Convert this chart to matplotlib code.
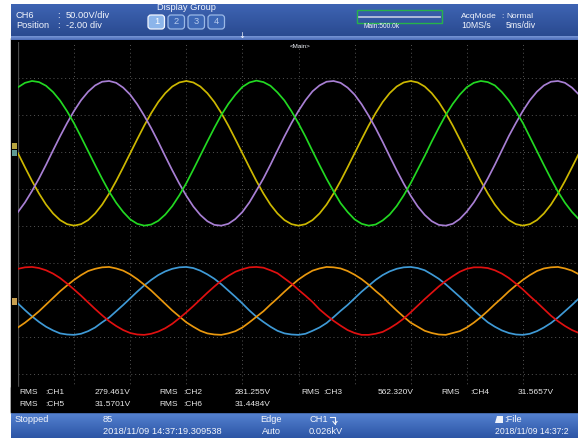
import numpy as np
import matplotlib
matplotlib.use('Agg')
import matplotlib.pyplot as plt
from matplotlib.patches import Rectangle, FancyBboxPatch, Polygon
from matplotlib.colors import LinearSegmentedColormap

# ---------------- data (screen divisions) ----------------
time_div = np.arange(0, 10.001, 0.125)          # 5 ms/div, 81 samples

green = [3.76, 3.88, 3.93, 3.90, 3.80, 3.63, 3.40, 3.11, 2.78, 2.41, 2.03, 1.65, 1.28, 0.93, 0.63, 0.38,
         0.18, 0.06, 0.01, 0.04, 0.14, 0.31, 0.54, 0.83, 1.16, 1.53, 1.91, 2.29, 2.66, 3.01, 3.31, 3.56,
         3.77, 3.89, 3.94, 3.90, 3.80, 3.62, 3.40, 3.11, 2.78, 2.42, 2.03, 1.65, 1.28, 0.94, 0.62, 0.38,
         0.18, 0.06, 0.01, 0.04, 0.15, 0.31, 0.54, 0.83, 1.16, 1.53, 1.90, 2.29, 2.66, 3.01, 3.31, 3.56,
         3.76, 3.88, 3.93, 3.90, 3.81, 3.63, 3.40, 3.11, 2.79, 2.41, 2.03, 1.65, 1.28, 0.93, 0.63, 0.38,
         0.18]
purple = [0.38, 0.64, 0.95, 1.29, 1.66, 2.05, 2.43, 2.79, 3.12, 3.41, 3.64, 3.81, 3.91, 3.93, 3.88, 3.75,
          3.56, 3.30, 2.99, 2.65, 2.28, 1.89, 1.51, 1.15, 0.82, 0.53, 0.30, 0.13, 0.03, 0.01, 0.06, 0.19,
          0.38, 0.64, 0.96, 1.29, 1.66, 2.05, 2.43, 2.79, 3.12, 3.41, 3.65, 3.81, 3.91, 3.93, 3.88, 3.75,
          3.56, 3.30, 2.99, 2.65, 2.28, 1.89, 1.51, 1.15, 0.82, 0.53, 0.30, 0.13, 0.03, 0.01, 0.06, 0.19,
          0.39, 0.64, 0.95, 1.29, 1.66, 2.05, 2.44, 2.79, 3.12, 3.41, 3.64, 3.81, 3.91, 3.93, 3.88, 3.75,
          3.56]
yellow = [1.97, 1.59, 1.22, 0.88, 0.58, 0.34, 0.16, 0.05, 0.01, 0.05, 0.16, 0.34, 0.58, 0.88, 1.22, 1.59,
          1.97, 2.35, 2.72, 3.06, 3.36, 3.60, 3.78, 3.89, 3.93, 3.89, 3.78, 3.60, 3.36, 3.06, 2.72, 2.35,
          1.97, 1.59, 1.22, 0.88, 0.58, 0.34, 0.16, 0.05, 0.01, 0.05, 0.16, 0.34, 0.58, 0.88, 1.22, 1.59,
          1.97, 2.35, 2.72, 3.06, 3.36, 3.60, 3.78, 3.89, 3.93, 3.89, 3.78, 3.60, 3.36, 3.06, 2.72, 2.35,
          1.97, 1.59, 1.22, 0.88, 0.58, 0.34, 0.16, 0.05, 0.01, 0.05, 0.16, 0.34, 0.58, 0.88, 1.22, 1.59,
          1.97]
red = [-1.16, -1.12, -1.11, -1.14, -1.20, -1.29, -1.41, -1.56, -1.72, -1.89, -2.07, -2.25, -2.42, -2.58, -2.71, -2.82,
       -2.90, -2.94, -2.95, -2.92, -2.86, -2.77, -2.65, -2.50, -2.34, -2.17, -1.99, -1.81, -1.64, -1.48, -1.35, -1.24,
       -1.17, -1.12, -1.11, -1.13, -1.20, -1.28, -1.42, -1.56, -1.73, -1.89, -2.06, -2.26, -2.42, -2.57, -2.70, -2.82,
       -2.90, -2.95, -2.95, -2.92, -2.87, -2.77, -2.65, -2.51, -2.34, -2.16, -1.98, -1.81, -1.64, -1.49, -1.36, -1.24,
       -1.16, -1.12, -1.12, -1.14, -1.20, -1.29, -1.41, -1.56, -1.72, -1.90, -2.07, -2.25, -2.43, -2.58, -2.71, -2.82,
       -2.90]
orange = [-2.75, -2.62, -2.47, -2.31, -2.13, -1.95, -1.77, -1.61, -1.46, -1.33, -1.22, -1.16, -1.12, -1.11, -1.15, -1.21,
          -1.31, -1.44, -1.59, -1.75, -1.93, -2.11, -2.29, -2.45, -2.61, -2.73, -2.84, -2.91, -2.94, -2.95, -2.91, -2.85,
          -2.75, -2.61, -2.46, -2.31, -2.13, -1.96, -1.78, -1.61, -1.45, -1.32, -1.21, -1.15, -1.11, -1.12, -1.15, -1.22,
          -1.32, -1.44, -1.59, -1.76, -1.92, -2.11, -2.29, -2.46, -2.62, -2.73, -2.84, -2.90, -2.94, -2.95, -2.90, -2.85,
          -2.75, -2.62, -2.47, -2.30, -2.12, -1.95, -1.77, -1.61, -1.46, -1.33, -1.22, -1.15, -1.12, -1.11, -1.15, -1.21,
          -1.31]
blue = [-2.10, -2.28, -2.45, -2.60, -2.73, -2.83, -2.91, -2.94, -2.95, -2.92, -2.85, -2.75, -2.61, -2.48, -2.31, -2.14,
        -1.96, -1.78, -1.61, -1.46, -1.33, -1.23, -1.16, -1.12, -1.11, -1.14, -1.21, -1.31, -1.43, -1.58, -1.75, -1.92,
        -2.10, -2.29, -2.46, -2.60, -2.73, -2.84, -2.91, -2.94, -2.95, -2.92, -2.84, -2.75, -2.63, -2.47, -2.30, -2.14,
        -1.96, -1.78, -1.62, -1.46, -1.33, -1.23, -1.16, -1.12, -1.11, -1.14, -1.20, -1.31, -1.43, -1.58, -1.75, -1.92,
        -2.10, -2.28, -2.45, -2.61, -2.73, -2.83, -2.90, -2.94, -2.95, -2.92, -2.85, -2.75, -2.63, -2.48, -2.31, -2.14,
        -1.96]

trace_colors = {'green': '#22d822', 'purple': '#a87fd4', 'yellow': '#cdb800',
                'red': '#e01010', 'orange': '#e9980e', 'blue': '#3f9ad6'}

rms_row1 = [('CH1', '279.461V'), ('CH2', '281.255V'), ('CH3', '562.320V'), ('CH4', '31.5657V')]
rms_row2 = [('CH5', '31.5701V'), ('CH6', '31.4484V')]

# ---------------- figure ----------------
W, H = 578, 438
FONT = ['Liberation Sans', 'DejaVu Sans']
fig = plt.figure(figsize=(W / 100, H / 100), dpi=100)
fig.patch.set_facecolor('white')

bg = fig.add_axes([0, 0, 1, 1], zorder=0)
bg.axis('off')


def vgrad(ax, x0, x1, y0, y1, c0, c1, z=1):
    cmap = LinearSegmentedColormap.from_list('g', [c0, c1])
    grad = np.linspace(0, 1, 64).reshape(-1, 1)
    ax.imshow(grad, cmap=cmap, extent=(x0, x1, y1, y0), aspect='auto',
              zorder=z, interpolation='bilinear')


bg.add_patch(Rectangle((11, 38), W - 11, 375, color='black', zorder=0))
vgrad(bg, 11, W, 4, 36, '#3e64b3', '#2a4a90')
vgrad(bg, 11, W, 36, 40, '#7896d6', '#4a6ab6')
vgrad(bg, 11, W, 412, H, '#5683d2', '#2c55a5')
bg.set_xlim(0, W)
bg.set_ylim(H, 0)

# ---------------- scope screen ----------------
DIV_PX = 56.1
ax = fig.add_axes([18 / W, 1 - 410.5 / H, 560 / W, 369 / H], zorder=2)
ax.set_facecolor('none')
ax.set_xlim(0, 560 / DIV_PX)
ax.set_ylim(-5, 5)
for s in ax.spines.values():
    s.set_visible(False)
ax.set_xticks([])
ax.set_yticks([])
for i in range(1, 10):
    ax.axvline(i, color='#555555', lw=0.7, ls=(0, (1, 3)), zorder=1)
for j in range(-4, 5):
    ax.axhline(j, color='#555555', lw=0.7, ls=(0, (1, 3)), zorder=1)
ax.axvline(0, color='#4a4a4a', lw=0.9, zorder=1)

for name, vals in [('yellow', yellow), ('purple', purple), ('green', green),
                   ('blue', blue), ('orange', orange), ('red', red)]:
    ax.plot(time_div, vals, color=trace_colors[name], lw=1.25, zorder=3,
            solid_joinstyle='round')

# ---------------- overlay (texts, bars) ----------------
fg = fig.add_axes([0, 0, 1, 1], zorder=10)
fg.set_facecolor('none')
fg.axis('off')
fg.set_xlim(0, W)
fg.set_ylim(H, 0)

fg.add_patch(Rectangle((11, 387), W - 11, 25, color='black', zorder=1))

TXT = dict(color='#f2f5fc', fontfamily=FONT, va='center', ha='left', zorder=5)


def t(x, y, s, size=6.7, **kw):
    d = dict(TXT)
    d.update(kw)
    fg.text(x, y, s, fontsize=size, **d)


# header
t(16, 16, 'CH6')
t(57, 16, ':')
t(66, 16, '50.00V/div')
t(16, 25, 'Position')
t(57, 25, ':')
t(66, 25, '-2.00 div')
t(186, 8, 'Display Group', ha='center')
btn_x = [147, 167, 187, 207]
for k, bx in enumerate(btn_x):
    if k == 0:
        fc, ec, tc = '#8cb5ea', '#f4f8ff', '#ffffff'
    else:
        fc, ec, tc = '#3d68b6', '#9ab8e6', '#b7cbee'
    fg.add_patch(FancyBboxPatch((bx + 1, 15), 16.5, 14, boxstyle='round,pad=0,rounding_size=3',
                                fc=fc, ec=ec, lw=0.9, zorder=3))
    t(bx + 9.5, 22, str(k + 1), ha='center', color=tc)
t(242, 35, '↓', size=6, ha='center', fontfamily='DejaVu Sans')

fg.add_patch(Rectangle((357, 10), 85, 13, fc='none', ec='#26b34a', lw=1.0, zorder=3))
fg.plot([359, 440], [16.5, 16.5], color='#c5cde0', lw=1.2, zorder=3)
t(363, 27, 'Main:500.0k', size=4.8)
t(461, 16, 'AcqMode', size=6.0)
t(501, 16, ':', size=6.0)
t(506, 16, 'Normal', size=6.0)
t(461, 26, '10MS/s', size=6.3)
t(506, 26, '5ms/div', size=6.3)

t(290, 46, '<Main>', size=4.5)

# left ground markers
fg.add_patch(Polygon([[12, 143], [17, 143], [17, 149], [12, 149]], closed=True,
                     fc='#b8a640', ec='none', zorder=4))
fg.add_patch(Polygon([[12, 150], [17, 150], [17, 156], [12, 156]], closed=True,
                     fc='#5e9a92', ec='none', zorder=4))
fg.add_patch(Polygon([[12, 298], [17, 298], [17, 305], [12, 305]], closed=True,
                     fc='#c9a050', ec='none', zorder=4))

# RMS readouts
col_rms = [19, 159, 301, 441]
col_ch = [45, 183, 323, 470]
col_val = [95, 235, 378, 518]
for row_y, row in [(393, rms_row1), (404, rms_row2)]:
    for c, (ch, val) in enumerate(row):
        t(col_rms[c], row_y, 'RMS', size=6, color='#e8e8e8')
        t(col_ch[c], row_y, ':' + ch, size=6, color='#e8e8e8')
        t(col_val[c], row_y, val, size=6, color='#e8e8e8')

# bottom bar
t(15, 420, 'Stopped')
t(103, 420, '85')
t(103, 431, '2018/11/09 14:37:19.309538')
t(260, 420, 'Edge')
t(262, 431, 'Auto')
t(309, 420, 'CH1')
fg.plot([330, 335, 335], [417, 417, 424], color='#eef2fa', lw=0.8, zorder=5)
fg.plot([333, 335, 337], [421.5, 424, 421.5], color='#eef2fa', lw=0.8, zorder=5)
t(309, 431, '0.026kV')
fg.add_patch(Polygon([[495, 423], [497, 416], [503, 416], [503, 423]], closed=True,
                     fc='#eef2fa', ec='none', zorder=5))
t(504, 420, ':File')
t(495, 431, '2018/11/09 14:37:2', size=6.2)

fig.savefig('out.png', dpi=100, facecolor='white')
